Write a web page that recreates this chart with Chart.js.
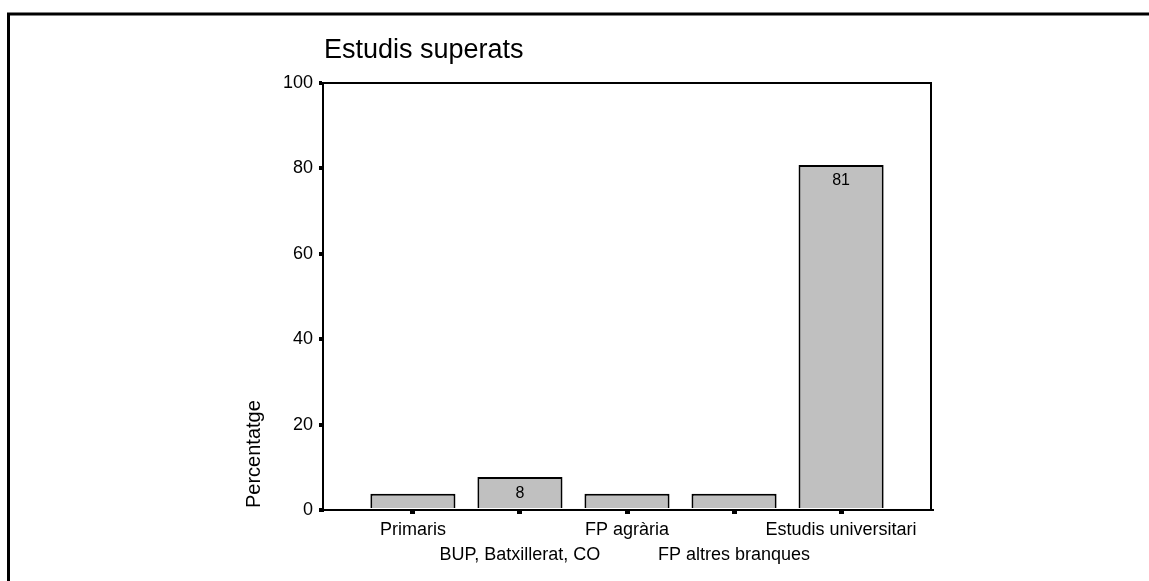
<!DOCTYPE html>
<html>
<head>
<meta charset="utf-8">
<script src="https://cdn.jsdelivr.net/npm/chart.js@4.4.1/dist/chart.umd.min.js"></script>
<style>
  html, body { margin: 0; padding: 0; background: #fff; }
  canvas { display: block; }
</style>
</head>
<body>
<canvas id="grafic" width="1149" height="581"></canvas>
<script>
// dades llegides del gràfic
const categories = ['Primaris', 'BUP, Batxillerat, CO', 'FP agrària', 'FP altres branques', 'Estudis universitari'];
const percentatges = [3.8, 7.7, 3.8, 3.8, 80.8];
const yTicks = [0, 20, 40, 60, 80, 100];

const titol = 'Estudis superats';
const titolEix = 'Percentatge';
const FONT = "'Liberation Sans', Arial, sans-serif";

Chart.defaults.font.family = FONT;
Chart.defaults.color = '#000';

// marc exterior, títol, caixa del gràfic i etiquetes de les barres
const decoracio = {
    id: 'decoracio',
    beforeDraw(chart) {
        const ctx = chart.ctx;
        ctx.save();
        ctx.fillStyle = '#fff';
        ctx.fillRect(0, 0, chart.width, chart.height);
        ctx.strokeStyle = '#000';
        ctx.lineWidth = 3;
        ctx.beginPath();
        ctx.moveTo(8.5, chart.height);
        ctx.lineTo(8.5, 14);
        ctx.lineTo(chart.width, 14);
        ctx.stroke();

        ctx.fillStyle = '#000';
        ctx.font = '27px ' + FONT;
        ctx.textAlign = 'left';
        ctx.textBaseline = 'alphabetic';
        ctx.fillText(titol, chart.chartArea.left + 1, 58);

        ctx.translate(260, 508);
        ctx.rotate(-Math.PI / 2);
        ctx.font = '20px ' + FONT;
        ctx.fillText(titolEix, 0, 0);
        ctx.restore();
    },
    afterDatasetsDraw(chart) {
        const ctx = chart.ctx;
        const area = chart.chartArea;
        ctx.save();
        ctx.strokeStyle = '#000';
        ctx.lineWidth = 2;
        ctx.strokeRect(area.left, area.top, area.right - area.left, area.bottom - area.top);

        ctx.fillStyle = '#000';
        ctx.font = '16px ' + FONT;
        ctx.textAlign = 'center';
        ctx.textBaseline = 'middle';
        chart.getDatasetMeta(0).data.forEach((bar, i) => {
            if (bar.base - bar.y > 26) {
                ctx.fillText(String(Math.round(percentatges[i])), bar.x, bar.y + 16);
            }
        });
        ctx.restore();
    }
};

new Chart(document.getElementById('grafic'), {
    type: 'bar',
    data: {
        datasets: [{
            data: percentatges.map((v, i) => ({ x: i, y: v })),
            backgroundColor: '#c0c0c0',
            borderColor: '#000',
            borderWidth: 2,
            barPercentage: 0.795,
            categoryPercentage: 1
        }]
    },
    options: {
        responsive: false,
        devicePixelRatio: 1,
        animation: false,
        layout: { padding: { top: 83, right: 218, left: 0, bottom: 0 } },
        plugins: {
            legend: { display: false },
            title: { display: false },
            tooltip: { enabled: false }
        },
        scales: {
            x: {
                type: 'linear',
                offset: false,
                min: -0.84,
                max: categories.length - 1 + 0.84,
                afterBuildTicks: scale => {
                    scale.ticks = categories.map((c, i) => ({ value: i }));
                },
                afterFit: scale => { scale.height = 71; },
                ticks: {
                    autoSkip: false,
                    maxRotation: 0,
                    minRotation: 0,
                    padding: 4,
                    font: { size: 18, lineHeight: 1.39 },
                    color: '#000',
                    callback: (v) => {
                        const nom = categories[Math.round(v)];
                        return Math.round(v) % 2 === 1 ? ['', nom] : nom;
                    }
                },
                grid: {
                    offset: false,
                    drawOnChartArea: false,
                    color: '#000',
                    lineWidth: 5,
                    tickLength: 4
                },
                border: { color: '#000', width: 2 }
            },
            y: {
                min: 0,
                max: 100,
                afterBuildTicks: scale => {
                    scale.ticks = yTicks.map(v => ({ value: v }));
                },
                afterFit: scale => { scale.width = 323; },
                ticks: {
                    padding: 6,
                    font: { size: 18 },
                    color: '#000'
                },
                grid: {
                    drawOnChartArea: false,
                    color: '#000',
                    lineWidth: 4,
                    tickLength: 4
                },
                border: { color: '#000', width: 2 }
            }
        }
    },
    plugins: [decoracio]
});
</script>
</body>
</html>
